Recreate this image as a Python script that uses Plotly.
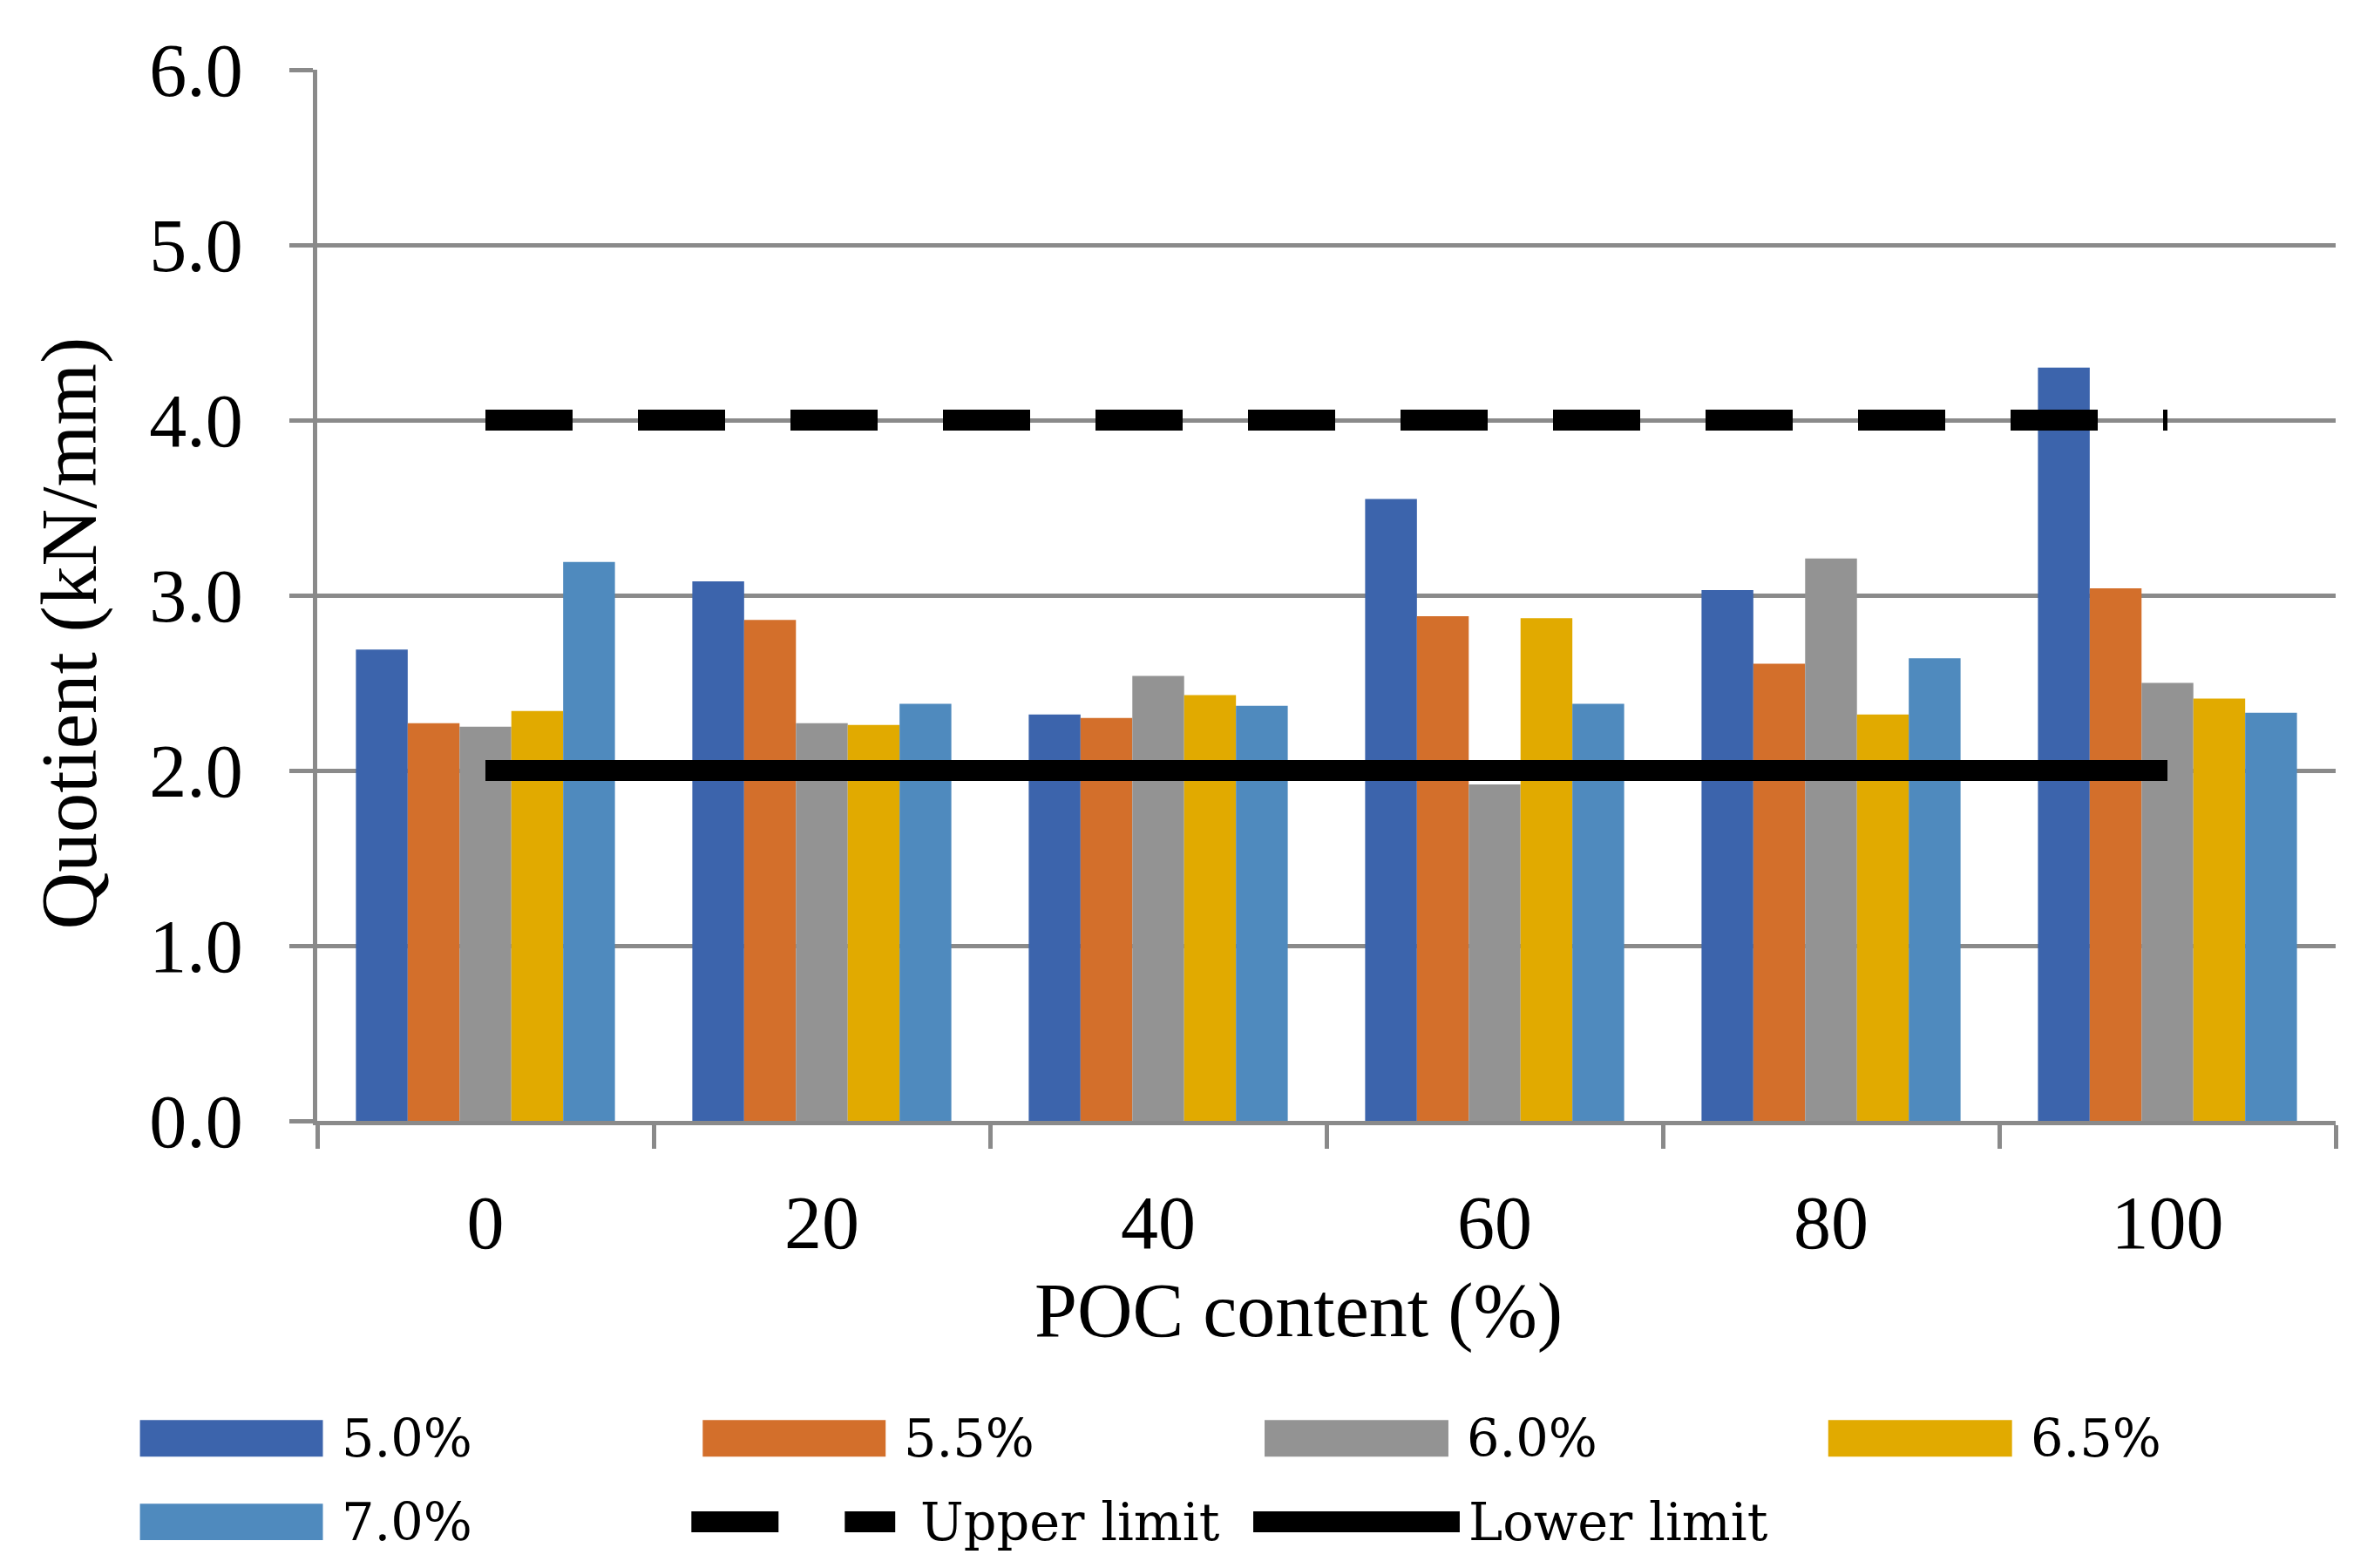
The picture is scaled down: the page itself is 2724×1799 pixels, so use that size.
import plotly.graph_objects as go

categories = ["0", "20", "40", "60", "80", "100"]
series_names = ["5.0%", "5.5%", "6.0%", "6.5%", "7.0%"]
s50 = [2.69, 3.08, 2.32, 3.55, 3.03, 4.30]
s55 = [2.27, 2.86, 2.30, 2.88, 2.61, 3.04]
s60 = [2.25, 2.27, 2.54, 1.92, 3.21, 2.50]
s65 = [2.34, 2.26, 2.43, 2.87, 2.32, 2.41]
s70 = [3.19, 2.38, 2.37, 2.38, 2.64, 2.33]
limit_names = ["Upper limit", "Lower limit"]
limit_x = ["0", "100"]
upper_limit = [4.0, 4.0]
lower_limit = [2.0, 2.0]
x_title = "POC content (%)"
y_title = "Quotient (kN/mm)"
y_ticks = [0, 1, 2, 3, 4, 5, 6]

colors = ["#3C64AC", "#D36F2B", "#939393", "#E1AA00", "#4F8ABE"]
AXFONT = "Liberation Serif"
LEGFONT = "DejaVu Serif"
GRID = "#8A8A8A"

# page has an 8px body margin; positions below are screen pixels
OFF = 8
W, H = 2724 - 2 * OFF, 1799 - 2 * OFF
PL, PR, PT, PB = 363.5, 2680.5, 79.5, 1286.5   # plot area on screen
PW, PH = PR - PL, PB - PT

def px(x):
    return (x - PL) / PW

def py(y):
    return (PB - y) / PH

fig = go.Figure()
for name, vals, c in zip(series_names, [s50, s55, s60, s65, s70], colors):
    fig.add_trace(go.Bar(x=categories, y=vals, name=name, marker=dict(color=c, line=dict(width=0))))

fig.add_trace(go.Scatter(x=limit_x, y=upper_limit, mode="lines", name=limit_names[0],
                         line=dict(color="black", width=24, dash="100px,75px")))
fig.add_trace(go.Scatter(x=limit_x, y=lower_limit, mode="lines", name=limit_names[1],
                         line=dict(color="black", width=24)))

shapes = []
annotations = []
LEG_FONT = dict(family=LEGFONT, size=59, color="black")
row1, row2 = 1651, 1747
rect_h = 42
items = [
    (series_names[0], colors[0], 160, 370, 390, row1),
    (series_names[1], colors[1], 806, 1016, 1035, row1),
    (series_names[2], colors[2], 1451, 1662, 1681, row1),
    (series_names[3], colors[3], 2098, 2309, 2328, row1),
    (series_names[4], colors[4], 160, 370, 390, row2),
]
for name, c, x0, x1, tx, yc in items:
    shapes.append(dict(type="rect", xref="paper", yref="paper", x0=px(x0), x1=px(x1),
                       y0=py(yc + rect_h / 2), y1=py(yc - rect_h / 2),
                       fillcolor=c, line=dict(width=0)))
    annotations.append(dict(text=name, xref="paper", yref="paper", x=px(tx), y=py(yc),
                            xanchor="left", yanchor="middle", showarrow=False, font=LEG_FONT))
shapes.append(dict(type="line", xref="paper", yref="paper", x0=px(793), x1=px(1027),
                   y0=py(row2), y1=py(row2), line=dict(color="black", width=24, dash="100px,76px")))
annotations.append(dict(text=limit_names[0], xref="paper", yref="paper", x=px(1054), y=py(row2),
                        xanchor="left", yanchor="middle", showarrow=False, font=LEG_FONT))
shapes.append(dict(type="line", xref="paper", yref="paper", x0=px(1438), x1=px(1675),
                   y0=py(row2), y1=py(row2), line=dict(color="black", width=24)))
annotations.append(dict(text=limit_names[1], xref="paper", yref="paper", x=px(1683), y=py(row2),
                        xanchor="left", yanchor="middle", showarrow=False, font=LEG_FONT))
# axis titles
annotations.append(dict(text=y_title, xref="paper", yref="paper", x=px(79), y=py(727),
                        xanchor="center", yanchor="middle", textangle=-90, showarrow=False,
                        font=dict(family=AXFONT, size=91, color="black")))
annotations.append(dict(text=x_title, xref="paper", yref="paper", x=px(1490), y=py(1504),
                        xanchor="center", yanchor="middle", showarrow=False,
                        font=dict(family=AXFONT, size=88, color="black")))

fig.update_layout(
    width=W, height=H,
    margin=dict(l=PL - OFF, r=W - (PR - OFF), t=PT - OFF, b=H - (PB - OFF), autoexpand=False),
    paper_bgcolor="white", plot_bgcolor="white",
    barmode="group", bargap=0.23, bargroupgap=0,
    showlegend=False,
    shapes=shapes, annotations=annotations,
    font=dict(family=AXFONT, size=86, color="black"),
)
fig.update_xaxes(type="category", categoryorder="array", categoryarray=categories,
                 showline=True, linecolor=GRID, linewidth=5, showgrid=False,
                 ticks="outside", tickson="boundaries", ticklen=27, tickwidth=5, tickcolor=GRID,
                 ticklabelstandoff=38, tickfont=dict(family=AXFONT, size=86, color="black"),
                 zeroline=False)
fig.update_yaxes(range=[0, 6], tickvals=y_ticks, tickformat=".1f",
                 showline=True, linecolor=GRID, linewidth=5,
                 showgrid=True, gridcolor=GRID, gridwidth=5,
                 ticks="outside", ticklen=27, tickwidth=5, tickcolor=GRID,
                 ticklabelstandoff=36, tickfont=dict(family=AXFONT, size=86, color="black"),
                 zeroline=False)

fig.write_html("out.html")
